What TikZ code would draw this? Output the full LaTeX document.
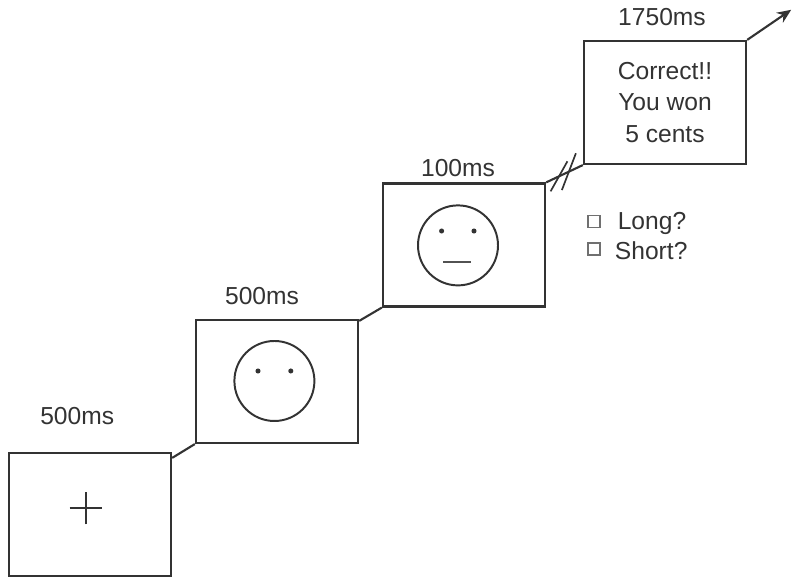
\documentclass[tikz,border=0pt]{standalone}
\usepackage{fontspec}
\setmainfont{Liberation Sans}
\usetikzlibrary{arrows.meta}
\definecolor{ink}{gray}{0.2}

\begin{document}
\begin{tikzpicture}[screen/.style={rectangle,draw=ink,line width=1.7pt,minimum width=4.05cm,minimum height=3.07cm,inner sep=0pt},
                    face/.style={circle,draw=ink,line width=1.4pt,minimum size=2cm,inner sep=0pt},
                    eye/.style={circle,fill=ink,inner sep=0pt,minimum size=3.6pt},
                    tick/.style={rectangle,draw=ink!70,line width=0.9pt,minimum size=0.3cm,inner sep=0pt},
                    link/.style={draw=ink,line width=1.5pt},
                    timing/.style={text=ink,font=\fontsize{17.5}{21}\selectfont},
                    every node/.append style={text=ink}]
  \useasboundingbox (0,0) rectangle (20,14.675);
  % the four screens, left to right
  \node[screen] (fixation) at (2.25,1.8125) {};
  \node[screen] (stimulus) at (6.925,5.1375) {};
  \node[screen] (probe) at (11.6,8.55) {};
  \node[screen,align=center,timing,font=\fontsize{17.5}{22.4}\selectfont] (feedback) at (16.625,12.1125)
    {Correct!!\\You won\\5 cents};
  % durations
  \node[timing] (timeA) at (1.93,4.27) {500ms};
  \node[timing] (timeB) at (6.55,7.27) {500ms};
  \node[timing] (timeC) at (11.45,10.47) {100ms};
  \node[timing] (timeD) at (16.55,14.25) {1750ms};
  % fixation cross
  \coordinate (cross) at (2.15,1.975);
  \draw[ink,line width=1.2pt] ([xshift=-0.41cm]cross)--([xshift=0.41cm]cross);
  \draw[ink,line width=1.2pt] ([yshift=-0.41cm]cross)--([yshift=0.41cm]cross);
  % faces
  \node[face] (faceA) at (6.86,5.15) {};
  \node[eye] (eyeAl) at (6.45,5.4) {};
  \node[eye] (eyeAr) at (7.27,5.4) {};
  \node[face] (faceB) at (11.45,8.54) {};
  \node[eye] (eyeBl) at (11.04,8.9) {};
  \node[eye] (eyeBr) at (11.85,8.9) {};
  \coordinate (mouthl) at (11.08,8.12);
  \coordinate (mouthr) at (11.77,8.12);
  \draw[ink!85,line width=1.3pt] (mouthl)--(mouthr);
  % connectors between the screens
  \draw[link] ([yshift=-0.15cm]fixation.north east)--(stimulus.south west);
  \draw[link] ([yshift=-0.05cm]stimulus.north east)--(probe.south west);
  \draw[link] (probe.north east)--(feedback.south west)
    node[pos=0.35,coordinate] (cutA) {} node[pos=0.62,coordinate] (cutB) {};
  \draw[ink,line width=1.2pt] ([shift={(-0.21,-0.375)}]cutA)--([shift={(0.21,0.375)}]cutA);
  \draw[ink,line width=1.2pt] ([shift={(-0.175,-0.46)}]cutB)--([shift={(0.175,0.46)}]cutB);
  \coordinate (onward) at (19.78,14.43);
  \draw[link,-{Stealth[length=10pt,width=8.5pt]}] (feedback.north east)--(onward);
  % response options
  \node[tick] (tickA) at (14.85,9.145) {};
  \node[tick] (tickB) at (14.85,8.45) {};
  \node[timing] (long) at (16.3,9.1) {Long?};
  \node[timing] (short) at (16.28,8.4) {Short?};
\end{tikzpicture}
\end{document}
